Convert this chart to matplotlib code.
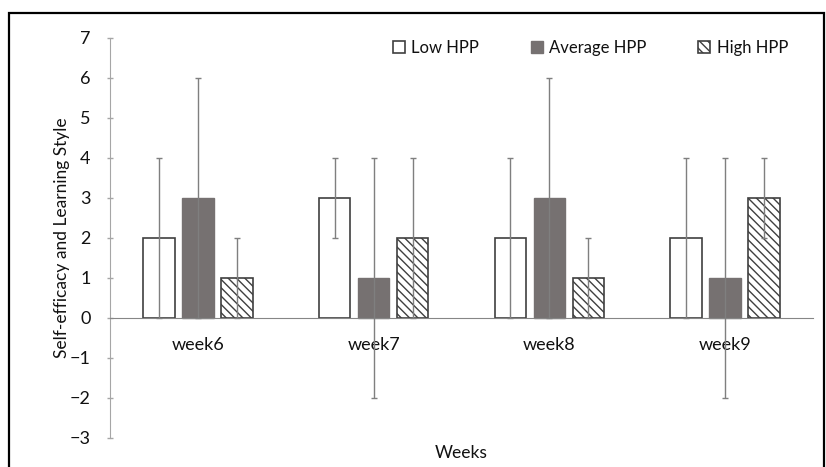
import numpy as np
import matplotlib
matplotlib.use('Agg')
import matplotlib.pyplot as plt
from matplotlib.patches import Patch, Rectangle

# data
weeks = ['week6', 'week7', 'week8', 'week9']
low_hpp = [2, 3, 2, 2]
low_err = [2, 1, 2, 2]
avg_hpp = [3, 1, 3, 1]
avg_err = [3, 3, 3, 3]
high_hpp = [1, 2, 1, 3]
high_err = [1, 2, 1, 1]
yticks = list(range(-3, 8))

plt.rcParams['font.family'] = ['Lato', 'DejaVu Sans']
plt.rcParams['font.size'] = 12
plt.rcParams['hatch.linewidth'] = 1.0
plt.rcParams['axes.unicode_minus'] = True

W, H = 826, 467
fig = plt.figure(figsize=(W / 100, H / 100), dpi=100)
ax = fig.add_axes([110 / W, 1 - 438 / H, (813 - 110) / W, (438 - 38) / H])

x = np.arange(len(weeks))
bw = 0.178
step = 0.222
edge = '#3f3f3f'
err_col = '#7f7f7f'
txt = '#111111'

ax.bar(x - step, low_hpp, bw, color='white', edgecolor=edge, linewidth=1.2, zorder=2)
ax.bar(x, avg_hpp, bw, color='#767171', edgecolor='#767171', linewidth=1.0, zorder=2)
ax.bar(x + step, high_hpp, bw, color='white', edgecolor=edge, linewidth=1.2,
       hatch='\\\\\\\\', zorder=2)

for off, vals, errs in [(-step, low_hpp, low_err), (0, avg_hpp, avg_err),
                        (step, high_hpp, high_err)]:
    ax.errorbar(x + off, vals, yerr=errs, fmt='none', ecolor=err_col,
                elinewidth=1.0, capsize=1.9, capthick=1.0, zorder=3)

ax.set_xlim(-0.5, 3.5)
ax.set_ylim(-3, 7)
ax.set_yticks(yticks)
ax.tick_params(axis='y', direction='inout', length=4, width=1, color='#a6a6a6',
               pad=12, labelsize=13, labelcolor=txt)

# category axis sits at zero
ax.spines['bottom'].set_position(('data', 0))
ax.spines['bottom'].set_color('#868686')
ax.spines['left'].set_color('#a6a6a6')
ax.spines['top'].set_visible(False)
ax.spines['right'].set_visible(False)
ax.set_xticks(x)
ax.set_xticklabels(weeks)
ax.tick_params(axis='x', length=0, pad=13.5, labelsize=13, labelcolor=txt)

ax.set_ylabel('Self-efficacy and Learning Style', fontsize=12.5, color=txt)
ax.yaxis.set_label_coords(-0.057, 0.5)
fig.text(461 / W, 1 - 453 / H, 'Weeks', ha='center', va='center',
         fontsize=12.5, color=txt)

handles = [Patch(facecolor='white', edgecolor=edge, linewidth=1.2, label='Low HPP'),
           Patch(facecolor='#767171', edgecolor='#767171', label='Average HPP'),
           Patch(facecolor='white', edgecolor=edge, linewidth=1.2,
                 hatch='\\\\\\\\', label='High HPP')]
leg = fig.legend(handles=handles, loc='center left', bbox_to_anchor=(393 / W, 1 - 48 / H),
                 ncol=3, frameon=False, fontsize=12, handlelength=0.7, handleheight=0.7,
                 handletextpad=0.4, columnspacing=3.1, borderpad=0, borderaxespad=0)
for t in leg.get_texts():
    t.set_color(txt)

# outer frame of the picture (bottom edge is cut off)
fig.patches.append(Rectangle((9 / W, -0.05), (824 - 9) / W, 1 - 13 / H + 0.05,
                             transform=fig.transFigure, fill=False,
                             edgecolor='black', linewidth=1.6, clip_on=False))

fig.savefig('out.png', dpi=100)
